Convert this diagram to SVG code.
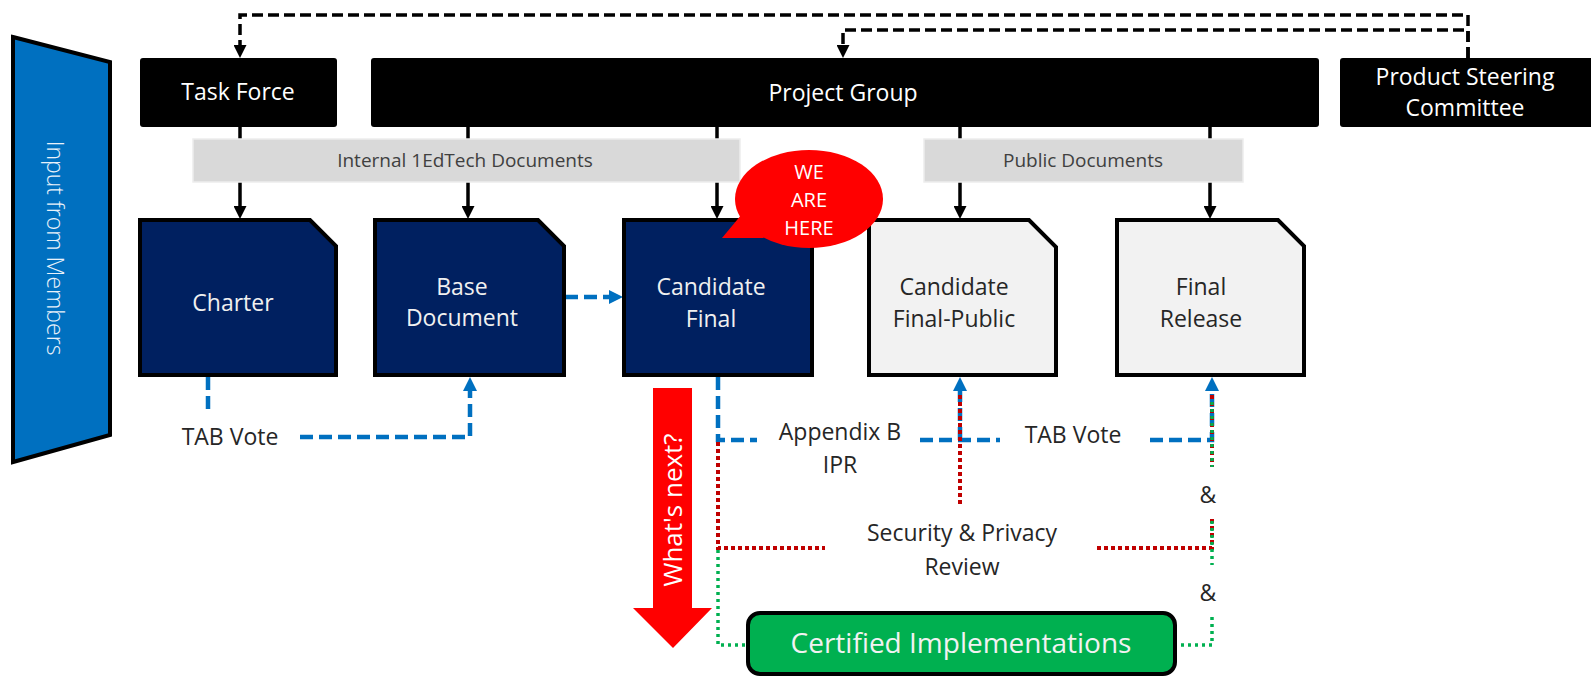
<svg xmlns="http://www.w3.org/2000/svg" width="1591" height="677" viewBox="0 0 1591 677">
<style>
text{font-family:"Open Sans","Noto Sans","Liberation Sans",sans-serif;text-anchor:middle}
.hdr{fill:#000}
.ht{fill:#fff;font-size:23px}
.band{fill:#D9D9D9;stroke:#EDEDED;stroke-width:1.5}
.bt{fill:#404040;font-size:19px}
.docd{fill:#002060;stroke:#000;stroke-width:4;stroke-linejoin:miter}
.docl{fill:#F2F2F2;stroke:#000;stroke-width:4;stroke-linejoin:miter}
.dtw{fill:#F0F0F0;font-size:23px}
.dtk{fill:#262626;font-size:23px}
.lbl{fill:#262626;font-size:23px}
.blk{fill:none;stroke:#000;stroke-width:3.5}
.bdash{fill:none;stroke:#000;stroke-width:3.5;stroke-dasharray:11 5}
.blue{fill:none;stroke:#0070C0;stroke-width:4.5;stroke-dasharray:13 6}
.red{fill:none;stroke:#C00000;stroke-width:4;stroke-dasharray:4 3}
.grn{fill:none;stroke:#00B050;stroke-width:3.5;stroke-dasharray:3 4}
.we{fill:#fff;font-size:20px}
</style>
<defs>
<marker id="ak" markerWidth="13" markerHeight="13" refX="5" refY="6.5" orient="auto" markerUnits="userSpaceOnUse"><path d="M0,0 L13,6.5 L0,13 z" fill="#000"/></marker>
<marker id="ab" markerWidth="14" markerHeight="14" refX="5" refY="7" orient="auto" markerUnits="userSpaceOnUse"><path d="M0,0 L14,7 L0,14 z" fill="#0070C0"/></marker>
</defs>

<g id="connectors">
<path class="bdash" d="M1468,58 V15 H240 V50" marker-end="url(#ak)"/>
<path class="bdash" d="M1468,58 V30 H843 V50" marker-end="url(#ak)"/>
<path class="blk" d="M240,127 V211" marker-end="url(#ak)"/>
<path class="blk" d="M468,127 V211" marker-end="url(#ak)"/>
<path class="blk" d="M717,127 V211" marker-end="url(#ak)"/>
<path class="blk" d="M960,127 V211" marker-end="url(#ak)"/>
<path class="blk" d="M1210,127 V211" marker-end="url(#ak)"/>
<path class="blue" d="M208,377 V410"/>
<path class="blue" d="M300,437 H470 V386" marker-end="url(#ab)"/>
<path class="blue" d="M565,297 H614" marker-end="url(#ab)"/>
<path class="blue" d="M718,377 V440 H757"/>
<path class="blue" d="M920,440 H1000"/>
<path class="blue" d="M960,440 V386" marker-end="url(#ab)"/>
<path class="blue" d="M1150,440 H1212 V386" marker-end="url(#ab)"/>
<path class="red" d="M960,395 V507"/>
<path class="red" d="M718,442 V548 H825"/>
<path class="red" d="M1097,548 H1212 V518"/>
<path class="red" d="M1212,395 V467"/>
<path class="grn" d="M1212,398 V467" stroke-dashoffset="3"/>
<path class="grn" d="M1212,521 V565"/>
<path class="grn" d="M1212,617 V645 H1177"/>
<path class="grn" d="M718,550 V645 H746"/>
</g>

<g id="input-from-members">
<polygon points="13,37 110,62 110,435 13,462" fill="#0070C0" stroke="#000" stroke-width="4"/>
<text transform="translate(55,248) rotate(90)" y="8" fill="#EAF2FA" font-size="23" font-weight="300">Input from Members</text>
</g>

<g id="task-force">
<rect class="hdr" x="140" y="58" width="197" height="69" rx="3"/>
<text class="ht" x="238" y="100">Task Force</text>
</g>
<g id="project-group">
<rect class="hdr" x="371" y="58" width="948" height="69" rx="3"/>
<text class="ht" x="843" y="101">Project Group</text>
</g>
<g id="product-steering-committee">
<rect class="hdr" x="1340" y="58" width="260" height="69" rx="3"/>
<text class="ht" x="1465" y="85">Product Steering</text>
<text class="ht" x="1465" y="116">Committee</text>
</g>

<g id="internal-docs">
<rect class="band" x="193" y="139" width="547" height="43"/>
<text class="bt" x="465" y="167">Internal 1EdTech Documents</text>
</g>
<g id="public-docs">
<rect class="band" x="924" y="139" width="319" height="43"/>
<text class="bt" x="1083" y="167">Public Documents</text>
</g>

<g id="charter">
<path class="docd" d="M140,220 H310 L336,246 V375 H140 Z"/>
<text class="dtw" x="233" y="311">Charter</text>
</g>
<g id="base-document">
<path class="docd" d="M375,220 H538 L564,246 V375 H375 Z"/>
<text class="dtw" x="462" y="295">Base</text>
<text class="dtw" x="462" y="326">Document</text>
</g>
<g id="candidate-final">
<path class="docd" d="M624,220 H786 L812,246 V375 H624 Z"/>
<text class="dtw" x="711" y="295">Candidate</text>
<text class="dtw" x="711" y="327">Final</text>
</g>
<g id="candidate-final-public">
<path class="docl" d="M869,220 H1029 L1056,247 V375 H869 Z"/>
<text class="dtk" x="954" y="295">Candidate</text>
<text class="dtk" x="954" y="327">Final-Public</text>
</g>
<g id="final-release">
<path class="docl" d="M1117,220 H1278 L1304,246 V375 H1117 Z"/>
<text class="dtk" x="1201" y="295">Final</text>
<text class="dtk" x="1201" y="327">Release</text>
</g>

<g id="we-are-here">
<ellipse cx="809" cy="199" rx="74" ry="49" fill="#FF0000"/>
<polygon points="742,214 722,238 764,238" fill="#FF0000"/>
<text class="we" x="809" y="179">WE</text>
<text class="we" x="809" y="207">ARE</text>
<text class="we" x="809" y="235">HERE</text>
</g>

<g id="whats-next">
<polygon points="653,388 692,388 692,608 712,608 673,648 633,608 653,608" fill="#FF0000"/>
<text transform="translate(673,510) rotate(-90)" y="9" fill="#fff" font-size="26">What's next?</text>
</g>

<g id="labels">
<text class="lbl" x="230" y="445">TAB Vote</text>
<text class="lbl" x="840" y="440">Appendix B</text>
<text class="lbl" x="840" y="473">IPR</text>
<text class="lbl" x="1073" y="443">TAB Vote</text>
<text class="lbl" x="962" y="541">Security &amp; Privacy</text>
<text class="lbl" x="962" y="575">Review</text>
<text class="lbl" x="1208" y="503">&amp;</text>
<text class="lbl" x="1208" y="601">&amp;</text>
</g>

<g id="certified-implementations">
<rect x="748" y="613" width="427" height="61" rx="12" fill="#00B050" stroke="#000" stroke-width="4"/>
<text x="961" y="653" fill="#F2F2F2" font-size="28">Certified Implementations</text>
</g>
</svg>
